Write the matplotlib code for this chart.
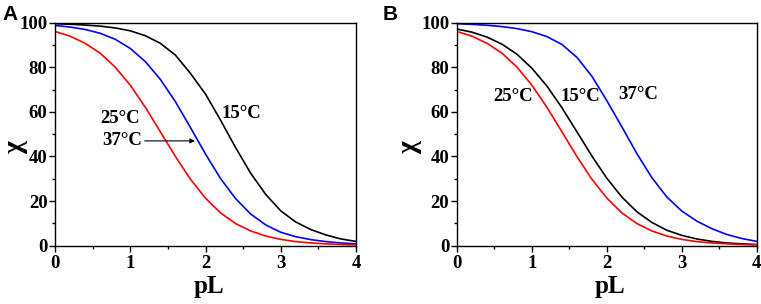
import matplotlib
matplotlib.use("Agg")
import matplotlib.pyplot as plt
from matplotlib.ticker import MultipleLocator

# pL grid shared by every curve (read every 0.2)
pL = [0.0, 0.2, 0.4, 0.6, 0.8, 1.0, 1.2, 1.4, 1.6, 1.8, 2.0,
      2.2, 2.4, 2.6, 2.8, 3.0, 3.2, 3.4, 3.6, 3.8, 4.0]

# panel A
a_15 = [99.6, 99.35, 99.0, 98.5, 97.7, 96.4, 94.2, 90.8, 85.5, 77.3, 68.0,
        56.3, 44.0, 32.5, 23.0, 15.6, 10.6, 7.2, 4.8, 3.0, 1.9]
a_25 = [96.1, 94.0, 90.8, 86.4, 80.1, 72.0, 62.1, 51.1, 40.0, 29.8, 21.3,
        14.7, 9.9, 6.6, 4.3, 2.8, 1.8, 1.2, 0.8, 0.5, 0.35]
a_37 = [98.8, 98.1, 97.0, 95.3, 92.6, 88.5, 82.6, 74.6, 64.6, 53.0, 41.1,
        30.1, 21.1, 14.2, 9.3, 6.0, 4.0, 2.7, 1.8, 1.2, 0.8]

# panel B
b_15 = [97.2, 95.8, 93.6, 90.4, 85.9, 79.6, 71.6, 61.9, 51.1, 40.2, 30.2,
        21.8, 15.2, 10.4, 6.9, 4.6, 3.0, 1.9, 1.2, 0.8, 0.5]
b_25 = a_25
b_37 = [99.6, 99.3, 98.9, 98.3, 97.4, 96.0, 93.8, 90.3, 84.5, 76.0, 65.0,
        53.3, 41.3, 30.5, 21.8, 15.5, 11.0, 7.6, 5.0, 3.2, 1.9]

serif = "Liberation Serif"

fig = plt.figure(figsize=(7.61, 3.04), dpi=100)
axA = fig.add_axes([0.0723, 0.192, 0.3955, 0.733])
axB = fig.add_axes([0.6005, 0.192, 0.394, 0.733])


def style_axes(ax, ylab_x):
    ax.set_xlim(0, 4)
    ax.set_ylim(0, 100)
    ax.xaxis.set_major_locator(MultipleLocator(1))
    ax.xaxis.set_minor_locator(MultipleLocator(0.5))
    ax.yaxis.set_major_locator(MultipleLocator(20))
    ax.yaxis.set_minor_locator(MultipleLocator(10))
    ax.tick_params(which="major", direction="out", length=4, width=1, pad=3)
    ax.tick_params(which="minor", direction="out", length=2, width=1)
    ax.tick_params(axis="y", which="major", pad=1.5)
    for lab in ax.get_xticklabels() + ax.get_yticklabels():
        lab.set_fontfamily(serif)
        lab.set_fontweight("bold")
        lab.set_fontsize(13.5)
    for sp in ax.spines.values():
        sp.set_linewidth(1.0)
    ax.set_xlabel("pL", fontfamily=serif, fontweight="bold", fontsize=18,
                  va="center")
    ax.set_ylabel("χ", fontfamily=serif, fontweight="bold", fontsize=20,
                  va="center")
    ax.xaxis.set_label_coords(0.51, -0.185)
    ax.yaxis.set_label_coords(ylab_x, 0.44)


lw = 1.2
axA.plot(pL, a_15, color="black", lw=lw)
axA.plot(pL, a_37, color="blue", lw=lw)
axA.plot(pL, a_25, color="red", lw=lw)
style_axes(axA, -0.13)

lab_kw = dict(fontfamily=serif, fontweight="bold", fontsize=13.5, ha="center", va="center")
axA.text(0.86, 57, "25°C", **lab_kw)
axA.text(2.48, 59.5, "15°C", **lab_kw)
axA.annotate("37°C", xy=(1.86, 47), xytext=(0.89, 47),
             arrowprops=dict(arrowstyle="-|>", color="black", lw=0.8,
                             mutation_scale=7, shrinkA=0, shrinkB=0),
             **lab_kw)

axB.plot(pL, b_37, color="blue", lw=lw)
axB.plot(pL, b_15, color="black", lw=lw)
axB.plot(pL, b_25, color="red", lw=lw)
style_axes(axB, -0.157)
axB.text(0.75, 67, "25°C", **lab_kw)
axB.text(1.64, 67, "15°C", **lab_kw)
axB.text(2.42, 68, "37°C", **lab_kw)

fig.text(0.003, 0.985, "A", fontfamily="Liberation Sans", fontweight="bold",
         fontsize=15, ha="left", va="top")
fig.text(0.503, 0.985, "B", fontfamily="Liberation Sans", fontweight="bold",
         fontsize=15, ha="left", va="top")

fig.savefig("out.png", dpi=100)
